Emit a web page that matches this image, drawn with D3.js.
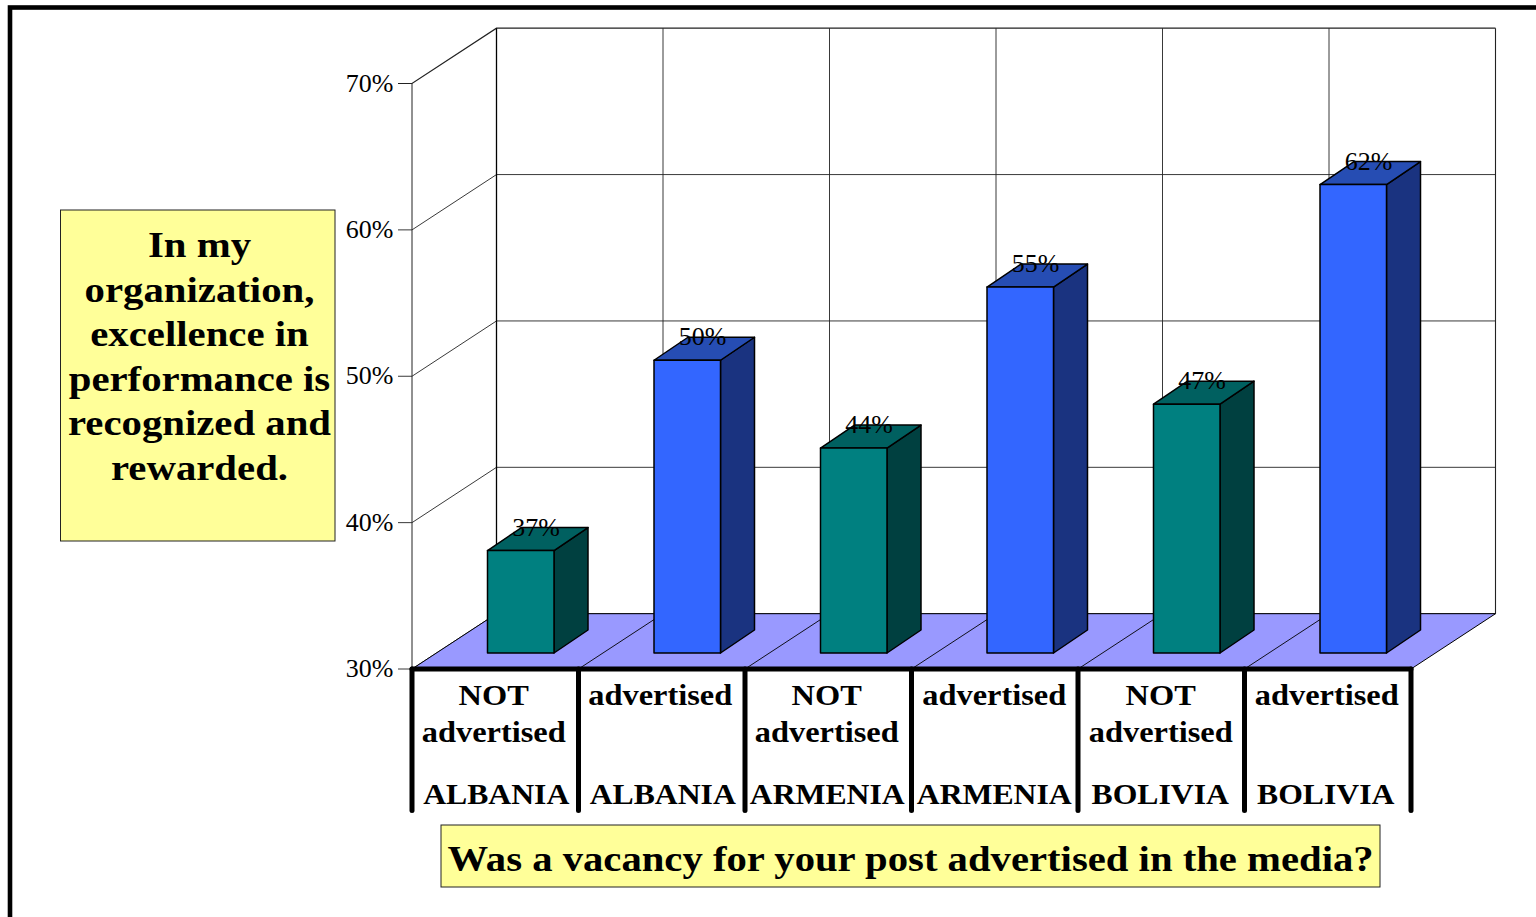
<!DOCTYPE html>
<html><head><meta charset="utf-8">
<script src="https://cdn.jsdelivr.net/npm/d3@7"></script>
<style>html,body{margin:0;padding:0;background:#fff;overflow:hidden}svg{display:block}text{font-family:"Liberation Serif","Times New Roman",serif;fill:#000}</style>
</head><body><svg id="c" width="1536" height="917"></svg>
<script>
const status = ["NOT advertised","advertised","NOT advertised","advertised","NOT advertised","advertised"];
const countries = ["ALBANIA","ALBANIA","ARMENIA","ARMENIA","BOLIVIA","BOLIVIA"];
const values = [37,50,44,55,47,62];
const ticks = [30,40,50,60,70];
const yTitleLines = ["In my","organization,","excellence in","performance is","recognized and","rewarded."];
const xTitle = "Was a vacancy for your post advertised in the media?";

const svg = d3.select("#c");
const ids = d3.range(values.length);
const x = d3.scaleBand().domain(ids).range([412,1411]);
const y = d3.scaleLinear().domain([30,70]).range([669,83.5]);
const DX=84.5, DY=-55.3;          // wall depth
const barW=66.5, bDX=34, bDY=-23; // bar depth
const baseDY=-16;                 // bar offset on floor
const L=x.range()[0], R=x.range()[1];
const pts=a=>a.map(p=>p.join(",")).join(" ");

function label(g,t,cx,by,size,sx,weight){
  return g.append("text").attr("transform",`translate(${cx},${by}) scale(${sx},1)`)
    .attr("text-anchor","middle").attr("font-size",size).attr("font-weight",weight||"normal").text(t);
}

// outer frame
svg.append("rect").attr("x",10).attr("y",7.5).attr("width",1700).attr("height",1200)
  .attr("fill","none").attr("stroke","#000").attr("stroke-width",4.6);

// back and side walls
const grid=svg.append("g").attr("fill","none").attr("stroke","#222");
ticks.forEach(t=>{
  const yy=y(t);
  grid.append("path").attr("d",`M${L-14},${yy}H${L}L${L+DX},${yy+DY}H${R+DX}`)
    .attr("stroke-width",t===70?1.2:0.9);
});
grid.append("line").attr("x1",L).attr("x2",L).attr("y1",y(70)).attr("y2",y(30)).attr("stroke-width",1);
ids.forEach(i=>{
  grid.append("line").attr("x1",x(i)+DX).attr("x2",x(i)+DX).attr("y1",y(70)+DY).attr("y2",y(30)+DY)
    .attr("stroke-width",i===0?1.3:0.9).attr("stroke",i===0?"#000":"#222");
});
grid.append("line").attr("x1",R+DX).attr("x2",R+DX).attr("y1",y(70)+DY).attr("y2",y(30)+DY).attr("stroke-width",1.1);

// floor
svg.append("polygon").attr("points",pts([[L,y(30)],[R,y(30)],[R+DX,y(30)+DY],[L+DX,y(30)+DY]]))
  .attr("fill","#9999ff").attr("stroke","#000").attr("stroke-width",1);
ids.slice(1).forEach(i=>{
  svg.append("line").attr("x1",x(i)).attr("y1",y(30)).attr("x2",x(i)+DX).attr("y2",y(30)+DY)
    .attr("stroke","#000").attr("stroke-width",0.9);
});

// bars
const fill={front:["#008080","#3366ff"],top:["#006060","#264db3"],side:["#004040","#1a3380"]};
const bars=svg.append("g").attr("stroke","#000").attr("stroke-width",1.5).attr("stroke-linejoin","round");
const barX=i=>x(i)+(x.bandwidth()-barW)/2+25.5;
const barTop=i=>y(30)+baseDY-(y(30)-y(values[i]));
ids.forEach(i=>{
  const k=i%2, x0=barX(i), x1=x0+barW;
  const yb=y(30)+baseDY, yt=barTop(i);
  bars.append("polygon").attr("points",pts([[x1,yt],[x1+bDX,yt+bDY],[x1+bDX,yb+bDY],[x1,yb]])).attr("fill",fill.side[k]);
  bars.append("polygon").attr("points",pts([[x0,yt],[x0+bDX,yt+bDY],[x1+bDX,yt+bDY],[x1,yt]])).attr("fill",fill.top[k]);
  bars.append("rect").attr("x",x0).attr("y",yt).attr("width",barW).attr("height",yb-yt).attr("fill",fill.front[k]);
});
// value labels
const vl=svg.append("g");
ids.forEach(i=>label(vl,values[i]+"%",barX(i)+48.5,barTop(i)-15,24.5,1.06));

// y tick labels
const yl=svg.append("g");
ticks.forEach(t=>label(yl,t+"%",369.5,y(t)+8,24.5,1.06));

// category table
const tbl=svg.append("g").attr("stroke","#000").attr("stroke-width",5).attr("stroke-linecap","round");
tbl.append("line").attr("x1",L).attr("x2",R).attr("y1",y(30)).attr("y2",y(30));
ids.concat([ids.length]).forEach(i=>{
  const xx=i<ids.length?x(i):R;
  tbl.append("line").attr("x1",xx).attr("x2",xx).attr("y1",y(30)).attr("y2",810.5);
});
const cl=svg.append("g");
const textShift=[-1.5,-1.5,-1.5,-0.5,-0.5,-1];
const countryShift=[1,1,-1,-0.5,-1,-2];
ids.forEach(i=>{
  const cx=x(i)+x.bandwidth()/2;
  const words=status[i]==="advertised"?["advertised"]:["NOT","advertised"];
  words.forEach((w,j)=>label(cl,w,cx+textShift[i],705+j*37,28.7,1.13,"bold"));
  label(cl,countries[i],cx+countryShift[i],804,28.7,1.105,"bold");
});

// y title box
svg.append("rect").attr("x",60.5).attr("y",210).attr("width",274.5).attr("height",331)
  .attr("fill","#ffff99").attr("stroke","#222").attr("stroke-width",1);
const yt=svg.append("g");
yTitleLines.forEach((s,i)=>label(yt,s,199.5,257+i*44.5,35,1.165,"bold"));

// x title box
svg.append("rect").attr("x",441).attr("y",825).attr("width",939).attr("height",62)
  .attr("fill","#ffff99").attr("stroke","#222").attr("stroke-width",1);
label(svg,xTitle,910.5,871,35,1.163,"bold");
</script></body></html>
